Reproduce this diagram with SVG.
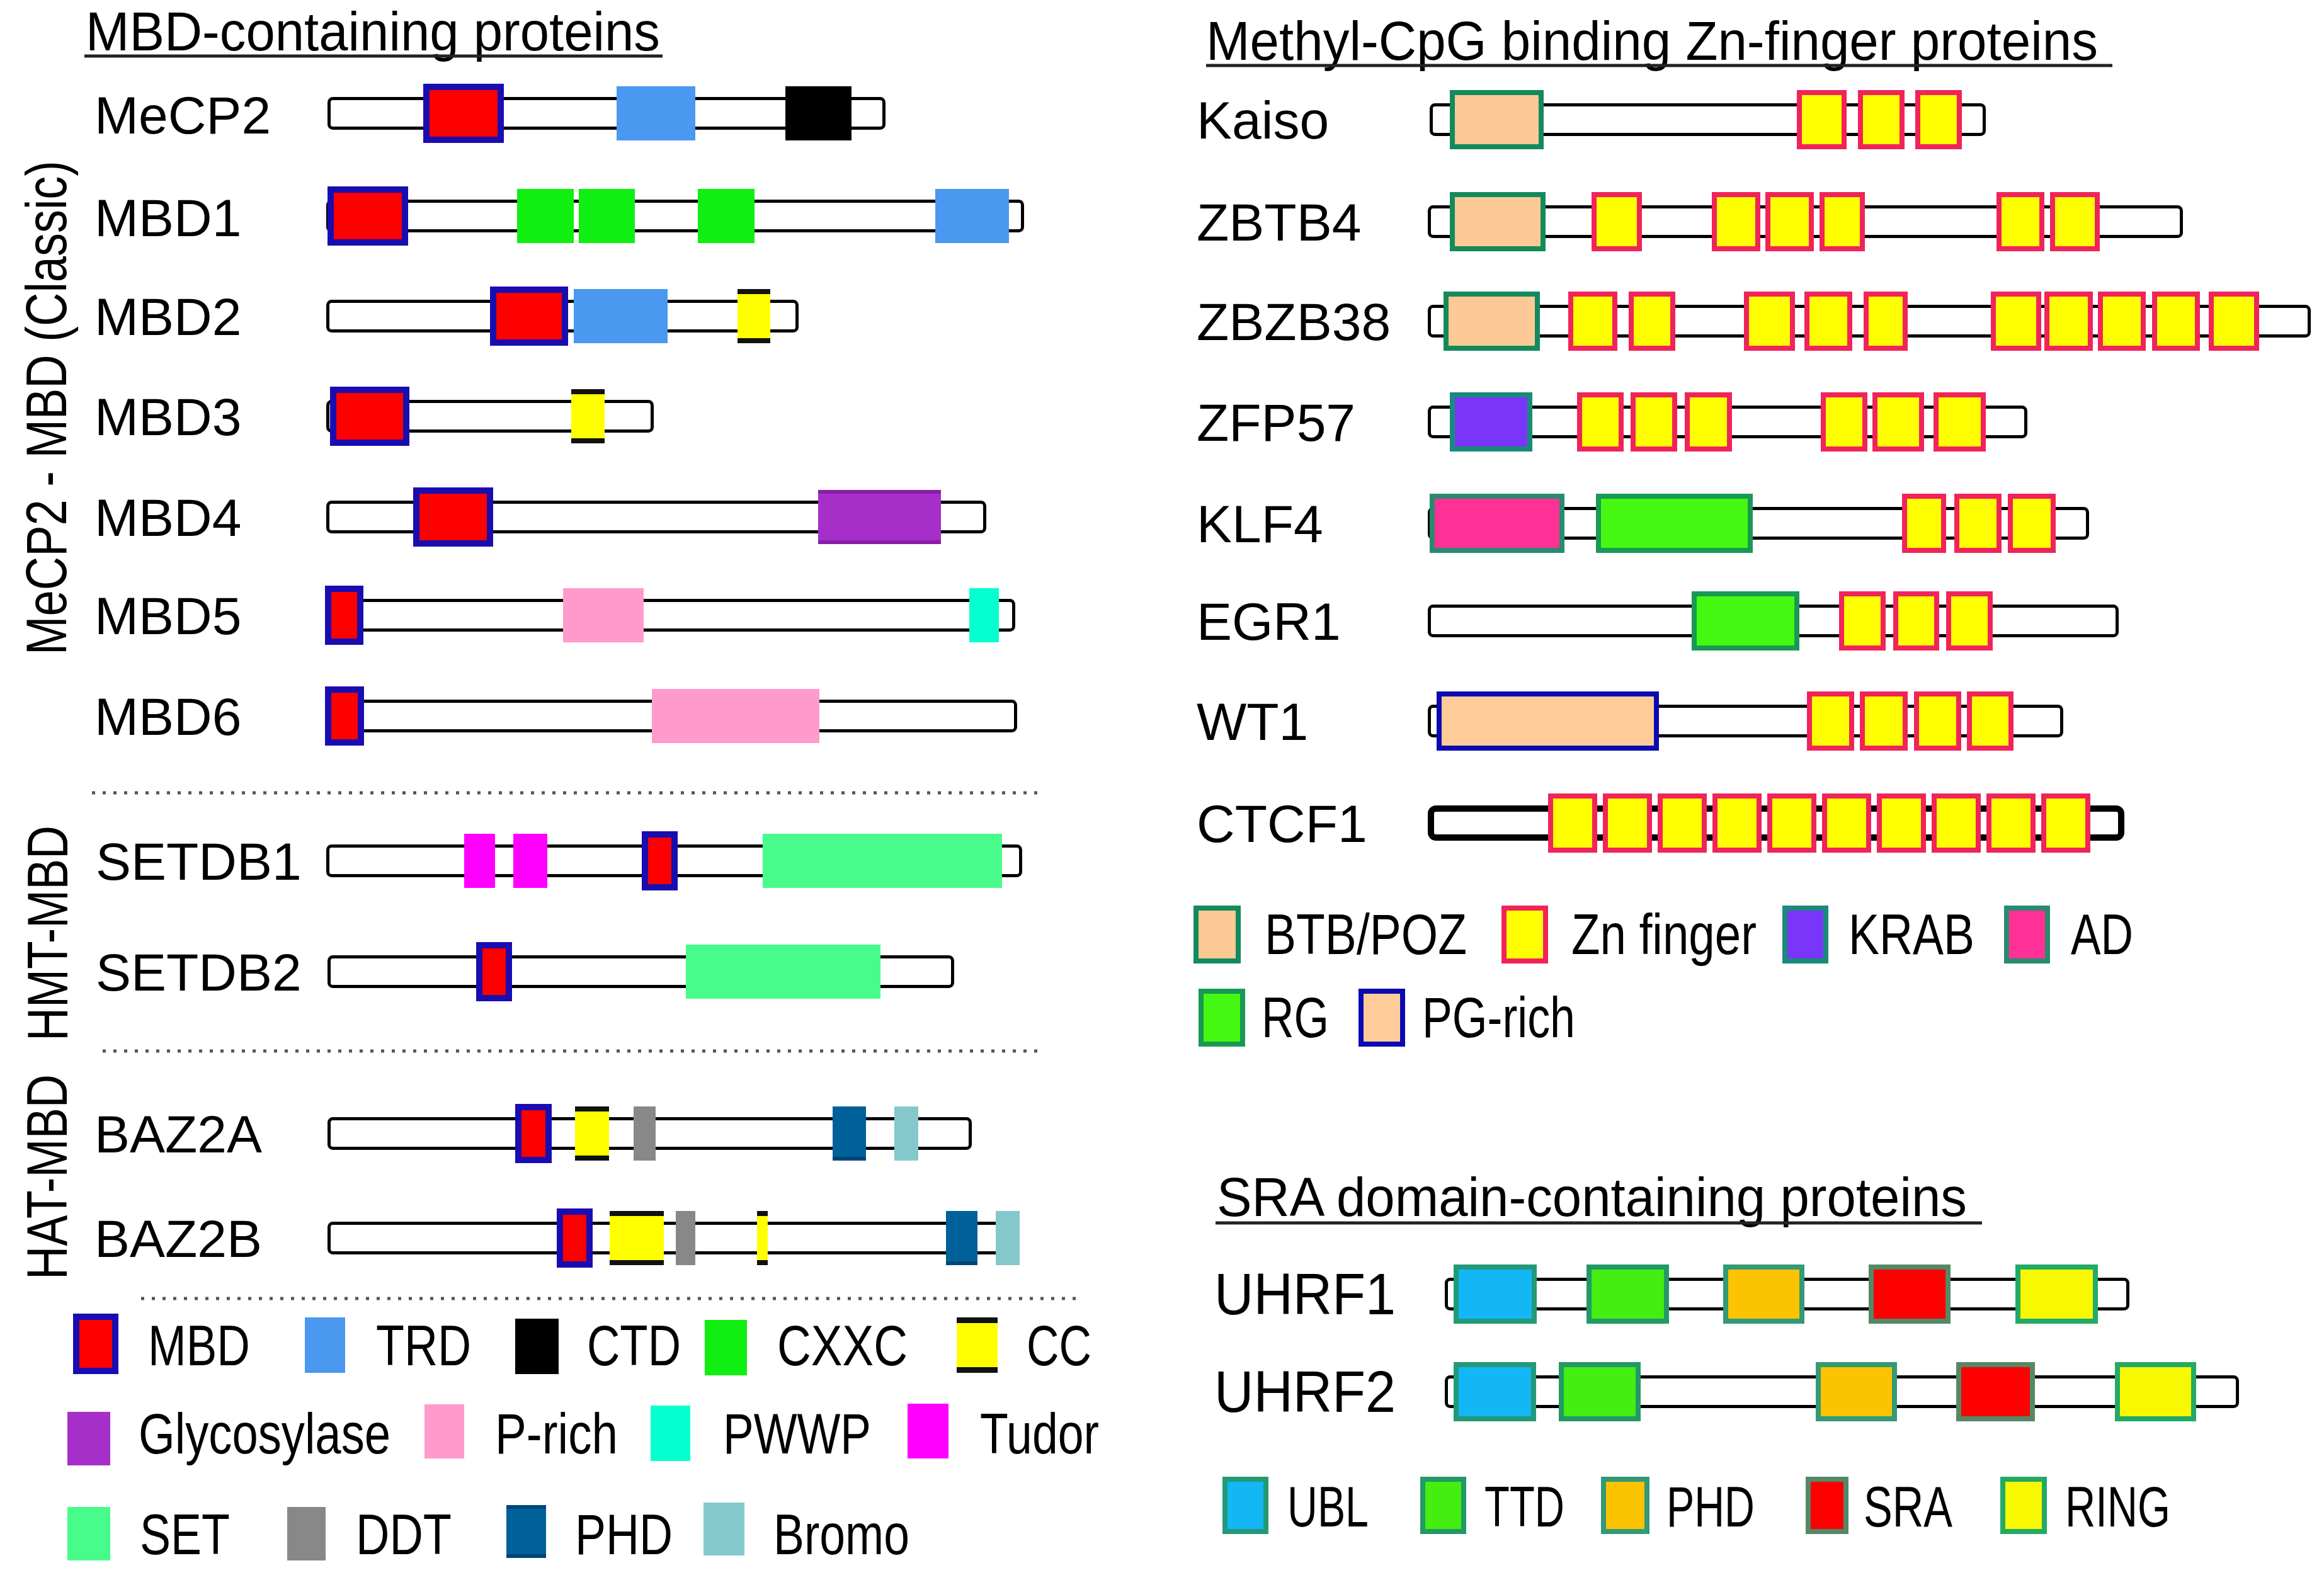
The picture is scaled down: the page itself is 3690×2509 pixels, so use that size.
<svg xmlns="http://www.w3.org/2000/svg" width="3690" height="2509" viewBox="0 0 3690 2509">
<style>
text{font-family:"Liberation Sans",Arial,sans-serif;fill:#000}
.lbl{font-size:84px}
.ttl{font-size:87px}
.leg{font-size:91px}
.vt{font-size:90px}
.bar{fill:#fff;stroke:#000;stroke-width:5}
.bar2{fill:#fff;stroke:#000;stroke-width:10}
.ul{stroke:#222;stroke-width:5}
.dot{stroke:#555;stroke-width:5;stroke-dasharray:5 12}
.mbd{fill:#ff0000;stroke:#1a0db0;stroke-width:10}
.trd{fill:#4a98f0}
.ctd{fill:#000}
.cxxc{fill:#11ee11}
.cc{fill:#ffff00}
.ccb{fill:#111}
.gly{fill:#a62fc9}
.glyb{fill:#8a1ea8}
.prich{fill:#ff9bcb}
.pwwp{fill:#05ffcf}
.tudor{fill:#ff00ff}
.set{fill:#48fc8c}
.ddt{fill:#888}
.phd{fill:#00609a}
.phdb{fill:#004478}
.bromo{fill:#85c8cb}
.btb{fill:#fcc996;stroke:#138a5b;stroke-width:8}
.zn{fill:#ffff00;stroke:#f0245a;stroke-width:8}
.krab{fill:#7a35fa;stroke:#1a8a7a;stroke-width:8}
.ad{fill:#ff3196;stroke:#2a8a70;stroke-width:8}
.rg{fill:#45f812;stroke:#199955;stroke-width:8}
.pg{fill:#ffcc99;stroke:#0a0ab0;stroke-width:8}
.ubl{fill:#13b7f5;stroke:#229977;stroke-width:8}
.ttd{fill:#44ee11;stroke:#229966;stroke-width:8}
.phd2{fill:#fbc300;stroke:#339977;stroke-width:8}
.sra{fill:#ff0000;stroke:#558866;stroke-width:8}
.ring{fill:#f8f800;stroke:#22aa66;stroke-width:8}
</style>

<!-- Left panel titles and side labels -->
<g id="title-mbd">
<text class="ttl" x="136" y="80" textLength="912" lengthAdjust="spacingAndGlyphs">MBD-containing proteins</text>
<line class="ul" x1="134" y1="89" x2="1052" y2="89"/>
</g>
<g id="side-labels">
<text class="vt" transform="translate(105,1040) rotate(-90)" x="0" y="0" textLength="785" lengthAdjust="spacingAndGlyphs">MeCP2 - MBD (Classic)</text>
<text class="vt" transform="translate(107,1653) rotate(-90)" x="0" y="0" textLength="342" lengthAdjust="spacingAndGlyphs">HMT-MBD</text>
<text class="vt" transform="translate(106,2032) rotate(-90)" x="0" y="0" textLength="326" lengthAdjust="spacingAndGlyphs">HAT-MBD</text>
</g>

<g id="MeCP2">
<text class="lbl" x="150" y="212">MeCP2</text>
<rect class="bar" x="522.5" y="156.5" width="881" height="47" rx="6"/>
<rect class="mbd" x="677" y="138" width="118" height="84"/>
<rect class="trd" x="979" y="137" width="125" height="86"/>
<rect class="ctd" x="1247" y="137" width="105" height="86"/>
</g>

<g id="MBD1">
<text class="lbl" x="150" y="375">MBD1</text>
<rect class="bar" x="520.5" y="319.5" width="1103" height="47" rx="6"/>
<rect class="mbd" x="525" y="301" width="118" height="84"/>
<rect class="cxxc" x="821" y="300" width="90" height="86"/>
<rect class="cxxc" x="919" y="300" width="89" height="86"/>
<rect class="cxxc" x="1108" y="300" width="90" height="86"/>
<rect class="trd" x="1485" y="300" width="117" height="86"/>
</g>

<g id="MBD2">
<text class="lbl" x="150" y="532">MBD2</text>
<rect class="bar" x="520.5" y="478.5" width="745" height="47" rx="6"/>
<rect class="mbd" x="783" y="460" width="114" height="84"/>
<rect class="trd" x="911" y="459" width="149" height="86"/>
<rect class="cc" x="1171" y="459" width="52" height="86"/>
<rect class="ccb" x="1171" y="459" width="52" height="8"/>
<rect class="ccb" x="1171" y="537" width="52" height="8"/>
</g>

<g id="MBD3">
<text class="lbl" x="150" y="691">MBD3</text>
<rect class="bar" x="520.5" y="637.5" width="515" height="47" rx="6"/>
<rect class="mbd" x="529" y="619" width="116" height="84"/>
<rect class="cc" x="907" y="618" width="53" height="86"/>
<rect class="ccb" x="907" y="618" width="53" height="8"/>
<rect class="ccb" x="907" y="696" width="53" height="8"/>
</g>

<g id="MBD4">
<text class="lbl" x="150" y="851">MBD4</text>
<rect class="bar" x="520.5" y="797.5" width="1043" height="47" rx="6"/>
<rect class="mbd" x="661" y="779" width="117" height="84"/>
<rect class="gly" x="1299" y="778" width="195" height="86"/>
<rect class="glyb" x="1299" y="778" width="195" height="6"/>
<rect class="glyb" x="1299" y="858" width="195" height="6"/>
</g>

<g id="MBD5">
<text class="lbl" x="150" y="1007">MBD5</text>
<rect class="bar" x="520.5" y="953.5" width="1089" height="47" rx="6"/>
<rect class="mbd" x="521" y="935" width="51" height="84"/>
<rect class="prich" x="894" y="934" width="128" height="86"/>
<rect class="pwwp" x="1539" y="934" width="47" height="86"/>
</g>

<g id="MBD6">
<text class="lbl" x="150" y="1167">MBD6</text>
<rect class="bar" x="520.5" y="1113.5" width="1092" height="47" rx="6"/>
<rect class="mbd" x="521" y="1095" width="52" height="84"/>
<rect class="prich" x="1035" y="1094" width="266" height="86"/>
</g>

<g id="separators">
<line class="dot" x1="146" y1="1259" x2="1653" y2="1259"/>
<line class="dot" x1="163" y1="1669" x2="1653" y2="1669"/>
<line class="dot" x1="224" y1="2062" x2="1716" y2="2062"/>
</g>

<g id="SETDB1">
<text class="lbl" x="152" y="1397">SETDB1</text>
<rect class="bar" x="520.5" y="1343.5" width="1100" height="47" rx="6"/>
<rect class="tudor" x="737" y="1324" width="49" height="86"/>
<rect class="tudor" x="815" y="1324" width="54" height="86"/>
<rect class="mbd" x="1024" y="1325" width="47" height="84"/>
<rect class="set" x="1211" y="1324" width="380" height="86"/>
</g>

<g id="SETDB2">
<text class="lbl" x="152" y="1573">SETDB2</text>
<rect class="bar" x="522.5" y="1519.5" width="990" height="47" rx="6"/>
<rect class="mbd" x="761" y="1501" width="47" height="84"/>
<rect class="set" x="1089" y="1500" width="309" height="86"/>
</g>

<g id="BAZ2A">
<text class="lbl" x="150" y="1830">BAZ2A</text>
<rect class="bar" x="522.5" y="1776.5" width="1018" height="47" rx="6"/>
<rect class="mbd" x="823" y="1758" width="48" height="84"/>
<rect class="cc" x="913" y="1757" width="54" height="86"/>
<rect class="ccb" x="913" y="1757" width="54" height="8"/>
<rect class="ccb" x="913" y="1835" width="54" height="8"/>
<rect class="ddt" x="1006" y="1757" width="35" height="86"/>
<rect class="phd" x="1322" y="1757" width="53" height="86"/>
<rect class="phdb" x="1322" y="1837" width="53" height="6"/>
<rect class="bromo" x="1420" y="1757" width="38" height="86"/>
</g>

<g id="BAZ2B">
<text class="lbl" x="150" y="1996">BAZ2B</text>
<rect class="bar" x="522.5" y="1942.5" width="1092" height="47" rx="6"/>
<rect class="mbd" x="889" y="1924" width="47" height="84"/>
<rect class="cc" x="968" y="1923" width="86" height="86"/>
<rect class="ccb" x="968" y="1923" width="86" height="8"/>
<rect class="ccb" x="968" y="2001" width="86" height="8"/>
<rect class="ddt" x="1073" y="1923" width="31" height="86"/>
<rect class="cc" x="1202" y="1923" width="17" height="86"/>
<rect class="ccb" x="1202" y="1923" width="17" height="8"/>
<rect class="ccb" x="1202" y="2001" width="17" height="8"/>
<rect class="phd" x="1502" y="1923" width="50" height="86"/>
<rect class="phdb" x="1502" y="2003" width="50" height="6"/>
<rect class="bromo" x="1581" y="1923" width="38" height="86"/>
</g>

<g id="legend-mbd">
<rect class="mbd" x="121" y="2091" width="62" height="86"/>
<text class="leg" x="235" y="2168" textLength="162" lengthAdjust="spacingAndGlyphs">MBD</text>
<rect class="trd" x="484" y="2092" width="64" height="88"/>
<text class="leg" x="597" y="2168" textLength="151" lengthAdjust="spacingAndGlyphs">TRD</text>
<rect class="ctd" x="818" y="2094" width="69" height="88"/>
<text class="leg" x="932" y="2168" textLength="149" lengthAdjust="spacingAndGlyphs">CTD</text>
<rect class="cxxc" x="1119" y="2096" width="67" height="88"/>
<text class="leg" x="1234" y="2168" textLength="207" lengthAdjust="spacingAndGlyphs">CXXC</text>
<rect class="cc" x="1519" y="2092" width="65" height="88"/>
<rect class="ccb" x="1519" y="2092" width="65" height="9"/>
<rect class="ccb" x="1519" y="2171" width="65" height="9"/>
<text class="leg" x="1630" y="2168" textLength="103" lengthAdjust="spacingAndGlyphs">CC</text>

<rect class="gly" x="107" y="2242" width="68" height="85"/>
<text class="leg" x="220" y="2308" textLength="400" lengthAdjust="spacingAndGlyphs">Glycosylase</text>
<rect class="prich" x="674" y="2230" width="63" height="86"/>
<text class="leg" x="786" y="2308" textLength="195" lengthAdjust="spacingAndGlyphs">P-rich</text>
<rect class="pwwp" x="1033" y="2232" width="63" height="88"/>
<text class="leg" x="1148" y="2308" textLength="235" lengthAdjust="spacingAndGlyphs">PWWP</text>
<rect class="tudor" x="1441" y="2229" width="65" height="87"/>
<text class="leg" x="1556" y="2308" textLength="189" lengthAdjust="spacingAndGlyphs">Tudor</text>

<rect class="set" x="107" y="2393" width="68" height="85"/>
<text class="leg" x="222" y="2468" textLength="143" lengthAdjust="spacingAndGlyphs">SET</text>
<rect class="ddt" x="456" y="2393" width="61" height="85"/>
<text class="leg" x="565" y="2468" textLength="152" lengthAdjust="spacingAndGlyphs">DDT</text>
<rect class="phd" x="804" y="2390" width="63" height="84"/>
<rect class="phdb" x="804" y="2390" width="63" height="6"/>
<rect class="phdb" x="804" y="2468" width="63" height="6"/>
<text class="leg" x="913" y="2468" textLength="155" lengthAdjust="spacingAndGlyphs">PHD</text>
<rect class="bromo" x="1117" y="2386" width="65" height="84"/>
<text class="leg" x="1228" y="2468" textLength="216" lengthAdjust="spacingAndGlyphs">Bromo</text>
</g>

<!-- Right panel -->
<g id="title-zf">
<text class="ttl" x="1915" y="95" textLength="1416" lengthAdjust="spacingAndGlyphs">Methyl-CpG binding Zn-finger proteins</text>
<line class="ul" x1="1915" y1="104" x2="3354" y2="104"/>
</g>

<g id="Kaiso">
<text class="lbl" x="1900" y="220">Kaiso</text>
<rect class="bar" x="2272.5" y="166.5" width="878" height="47" rx="6"/>
<rect class="btb" x="2306" y="147" width="141" height="86"/>
<rect class="zn" x="2857" y="147" width="71" height="86"/>
<rect class="zn" x="2954" y="147" width="66" height="86"/>
<rect class="zn" x="3045" y="147" width="66" height="86"/>
</g>

<g id="ZBTB4">
<text class="lbl" x="1900" y="382">ZBTB4</text>
<rect class="bar" x="2269.5" y="328.5" width="1194" height="47" rx="6"/>
<rect class="btb" x="2306" y="309" width="144" height="86"/>
<rect class="zn" x="2531" y="309" width="72" height="86"/>
<rect class="zn" x="2722" y="309" width="69" height="86"/>
<rect class="zn" x="2807" y="309" width="69" height="86"/>
<rect class="zn" x="2893" y="309" width="64" height="86"/>
<rect class="zn" x="3174" y="309" width="68" height="86"/>
<rect class="zn" x="3259" y="309" width="71" height="86"/>
</g>

<g id="ZBZB38">
<text class="lbl" x="1900" y="540">ZBZB38</text>
<rect class="bar" x="2269.5" y="486.5" width="1397" height="47" rx="6"/>
<rect class="btb" x="2296" y="467" width="145" height="86"/>
<rect class="zn" x="2494" y="467" width="70" height="86"/>
<rect class="zn" x="2590" y="467" width="66" height="86"/>
<rect class="zn" x="2773" y="467" width="73" height="86"/>
<rect class="zn" x="2869" y="467" width="68" height="86"/>
<rect class="zn" x="2963" y="467" width="62" height="86"/>
<rect class="zn" x="3165" y="467" width="72" height="86"/>
<rect class="zn" x="3250" y="467" width="69" height="86"/>
<rect class="zn" x="3335" y="467" width="68" height="86"/>
<rect class="zn" x="3421" y="467" width="68" height="86"/>
<rect class="zn" x="3511" y="467" width="72" height="86"/>
</g>

<g id="ZFP57">
<text class="lbl" x="1900" y="700">ZFP57</text>
<rect class="bar" x="2269.5" y="646.5" width="947" height="47" rx="6"/>
<rect class="krab" x="2306" y="627" width="123" height="86"/>
<rect class="zn" x="2508" y="627" width="66" height="86"/>
<rect class="zn" x="2593" y="627" width="66" height="86"/>
<rect class="zn" x="2679" y="627" width="67" height="86"/>
<rect class="zn" x="2895" y="627" width="66" height="86"/>
<rect class="zn" x="2977" y="627" width="74" height="86"/>
<rect class="zn" x="3074" y="627" width="75" height="86"/>
</g>

<g id="KLF4">
<text class="lbl" x="1900" y="861">KLF4</text>
<rect class="bar" x="2269.5" y="807.5" width="1045" height="47" rx="6"/>
<rect class="ad" x="2274" y="788" width="206" height="86"/>
<rect class="rg" x="2538" y="788" width="241" height="86"/>
<rect class="zn" x="3024" y="788" width="62" height="86"/>
<rect class="zn" x="3107" y="788" width="67" height="86"/>
<rect class="zn" x="3192" y="788" width="68" height="86"/>
</g>

<g id="EGR1">
<text class="lbl" x="1900" y="1016">EGR1</text>
<rect class="bar" x="2269.5" y="962.5" width="1092" height="47" rx="6"/>
<rect class="rg" x="2690" y="943" width="163" height="86"/>
<rect class="zn" x="2924" y="943" width="66" height="86"/>
<rect class="zn" x="3010" y="943" width="65" height="86"/>
<rect class="zn" x="3094" y="943" width="66" height="86"/>
</g>

<g id="WT1">
<text class="lbl" x="1900" y="1175">WT1</text>
<rect class="bar" x="2269.5" y="1121.5" width="1004" height="47" rx="6"/>
<rect class="pg" x="2285" y="1102" width="345" height="86"/>
<rect class="zn" x="2873" y="1102" width="67" height="86"/>
<rect class="zn" x="2957" y="1102" width="68" height="86"/>
<rect class="zn" x="3043" y="1102" width="67" height="86"/>
<rect class="zn" x="3127" y="1102" width="66" height="86"/>
</g>

<g id="CTCF1">
<text class="lbl" x="1900" y="1337">CTCF1</text>
<rect class="bar2" x="2272" y="1284" width="1096" height="46" rx="8"/>
<rect class="zn" x="2462" y="1264" width="70" height="86"/>
<rect class="zn" x="2549" y="1264" width="70" height="86"/>
<rect class="zn" x="2636" y="1264" width="70" height="86"/>
<rect class="zn" x="2723" y="1264" width="70" height="86"/>
<rect class="zn" x="2810" y="1264" width="70" height="86"/>
<rect class="zn" x="2897" y="1264" width="70" height="86"/>
<rect class="zn" x="2984" y="1264" width="70" height="86"/>
<rect class="zn" x="3071" y="1264" width="70" height="86"/>
<rect class="zn" x="3158" y="1264" width="70" height="86"/>
<rect class="zn" x="3245" y="1264" width="70" height="86"/>
</g>

<g id="legend-zf">
<rect class="btb" x="1899" y="1442" width="67" height="84"/>
<text class="leg" x="2008" y="1515" textLength="321" lengthAdjust="spacingAndGlyphs">BTB/POZ</text>
<rect class="zn" x="2388" y="1442" width="66" height="84"/>
<text class="leg" x="2495" y="1515" textLength="294" lengthAdjust="spacingAndGlyphs">Zn finger</text>
<rect class="krab" x="2834" y="1442" width="65" height="84"/>
<text class="leg" x="2935" y="1515" textLength="200" lengthAdjust="spacingAndGlyphs">KRAB</text>
<rect class="ad" x="3186" y="1442" width="65" height="84"/>
<text class="leg" x="3288" y="1515" textLength="99" lengthAdjust="spacingAndGlyphs">AD</text>
<rect class="rg" x="1907" y="1574" width="66" height="84"/>
<text class="leg" x="2003" y="1647" textLength="107" lengthAdjust="spacingAndGlyphs">RG</text>
<rect class="pg" x="2161" y="1574" width="66" height="84"/>
<text class="leg" x="2258" y="1647" textLength="243" lengthAdjust="spacingAndGlyphs">PG-rich</text>
</g>

<g id="title-sra">
<text class="ttl" x="1932" y="1931" textLength="1191" lengthAdjust="spacingAndGlyphs">SRA domain-containing proteins</text>
<line class="ul" x1="1930" y1="1942" x2="3147" y2="1942"/>
</g>

<g id="UHRF1">
<text class="lbl" x="1928" y="2087" style="font-size:92px" textLength="288" lengthAdjust="spacingAndGlyphs">UHRF1</text>
<rect class="bar" x="2296.5" y="2031.5" width="1082" height="47" rx="6"/>
<rect class="ubl" x="2312" y="2012" width="124" height="86"/>
<rect class="ttd" x="2523" y="2012" width="123" height="86"/>
<rect class="phd2" x="2740" y="2012" width="121" height="86"/>
<rect class="sra" x="2971" y="2012" width="122" height="86"/>
<rect class="ring" x="3204" y="2012" width="123" height="86"/>
</g>

<g id="UHRF2">
<text class="lbl" x="1928" y="2242" style="font-size:92px" textLength="288" lengthAdjust="spacingAndGlyphs">UHRF2</text>
<rect class="bar" x="2296.5" y="2186.5" width="1256" height="47" rx="6"/>
<rect class="ubl" x="2312" y="2167" width="123" height="86"/>
<rect class="ttd" x="2479" y="2167" width="122" height="86"/>
<rect class="phd2" x="2887" y="2167" width="121" height="86"/>
<rect class="sra" x="3110" y="2167" width="117" height="86"/>
<rect class="ring" x="3362" y="2167" width="121" height="86"/>
</g>

<g id="legend-sra">
<rect class="ubl" x="1945" y="2349" width="65" height="83"/>
<text class="leg" x="2044" y="2424" textLength="129" lengthAdjust="spacingAndGlyphs">UBL</text>
<rect class="ttd" x="2259" y="2349" width="65" height="83"/>
<text class="leg" x="2357" y="2424" textLength="127" lengthAdjust="spacingAndGlyphs">TTD</text>
<rect class="phd2" x="2546" y="2349" width="69" height="83"/>
<text class="leg" x="2646" y="2424" textLength="140" lengthAdjust="spacingAndGlyphs">PHD</text>
<rect class="sra" x="2871" y="2349" width="60" height="83"/>
<text class="leg" x="2959" y="2424" textLength="141" lengthAdjust="spacingAndGlyphs">SRA</text>
<rect class="ring" x="3180" y="2349" width="66" height="83"/>
<text class="leg" x="3279" y="2424" textLength="167" lengthAdjust="spacingAndGlyphs">RING</text>
</g>
</svg>
